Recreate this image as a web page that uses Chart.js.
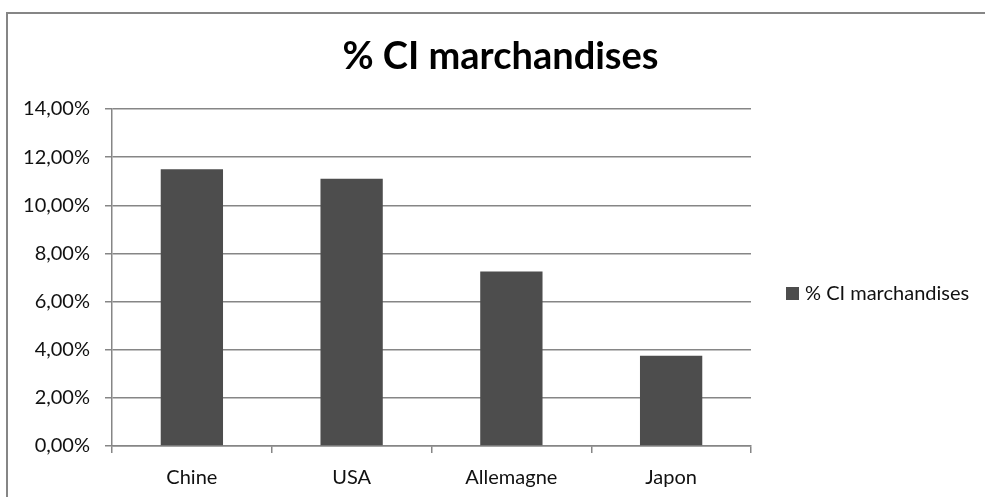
<!DOCTYPE html>
<html>
<head>
<meta charset="utf-8">
<script src="https://cdn.jsdelivr.net/npm/chart.js@4"></script>
<style>
  body { margin: 0; background: #fff; }
  #wrap { width: 985px; height: 497px; position: relative; }
</style>
</head>
<body>
<div id="wrap"><canvas id="chart"></canvas></div>
<script>
// data
const pays = ['Chine', 'USA', 'Allemagne', 'Japon'];
const ciMarchandises = [11.5, 11.1, 7.25, 3.75];
const serieLabel = '% CI marchandises';
const titre = '% CI marchandises';

const FONT = 'Lato, "Open Sans", sans-serif';
const BAR = '#4d4d4d';

// frame around the chart, only top and left visible in the shot
const frame = {
  id: 'frame',
  beforeDraw(chart) {
    const c = chart.ctx;
    c.save();
    c.strokeStyle = '#868686';
    c.lineWidth = 2;
    c.strokeRect(7, 13, 1000, 600);
    c.restore();
  }
};

// title centred on the whole frame, legend on the right
const decor = {
  id: 'decor',
  afterDraw(chart) {
    const c = chart.ctx;
    const a = chart.chartArea;
    const ds = chart.data.datasets[0];
    c.save();
    c.fillStyle = '#000';
    c.font = 'bold 38px ' + FONT;
    c.textAlign = 'center';
    c.textBaseline = 'middle';
    c.fillText(titre, chart.width / 2 + 8, 57);

    const x = a.right + 35;
    const y = (a.top + a.bottom) / 2 + 16;
    c.fillStyle = ds.backgroundColor;
    c.fillRect(x, y - 6.5, 13, 13);
    c.fillStyle = '#111';
    c.font = '20px ' + FONT;
    c.textAlign = 'left';
    c.fillText(ds.label, x + 19, y);
    c.restore();
  }
};

let ctx = document.getElementById('chart');
var chart = new Chart(ctx, {
  type: 'bar',
  data: {
    labels: pays,
    datasets: [{
      label: serieLabel,
      data: ciMarchandises,
      backgroundColor: BAR,
      barPercentage: 0.39,
      categoryPercentage: 1
    }]
  },
  options: {
    responsive: true,
    maintainAspectRatio: false,
    animation: false,
    layout: { padding: { top: 109, left: 20, right: 234, bottom: 0 } },
    plugins: {
      title: { display: false },
      legend: { display: false },
      tooltip: { enabled: false }
    },
    scales: {
      y: {
        min: 0,
        max: 14,
        ticks: {
          stepSize: 2,
          color: '#111',
          padding: 15,
          font: { family: FONT, size: 20 },
          callback: v => v.toFixed(2).replace('.', ',') + '%'
        },
        grid: { color: '#868686', lineWidth: 1.5, tickLength: 7 },
        border: { color: '#868686', width: 1.5 },
        afterFit(scale) { scale.width = 92; }
      },
      x: {
        ticks: {
          color: '#111',
          padding: 13,
          font: { family: FONT, size: 20 }
        },
        grid: {
          display: true,
          drawOnChartArea: false,
          offset: true,
          color: '#868686',
          lineWidth: 1.5,
          tickLength: 7
        },
        border: { color: '#868686', width: 1.5 },
        afterFit(scale) { scale.height = 51; }
      }
    }
  },
  plugins: [frame, decor]
});
</script>
</body>
</html>
